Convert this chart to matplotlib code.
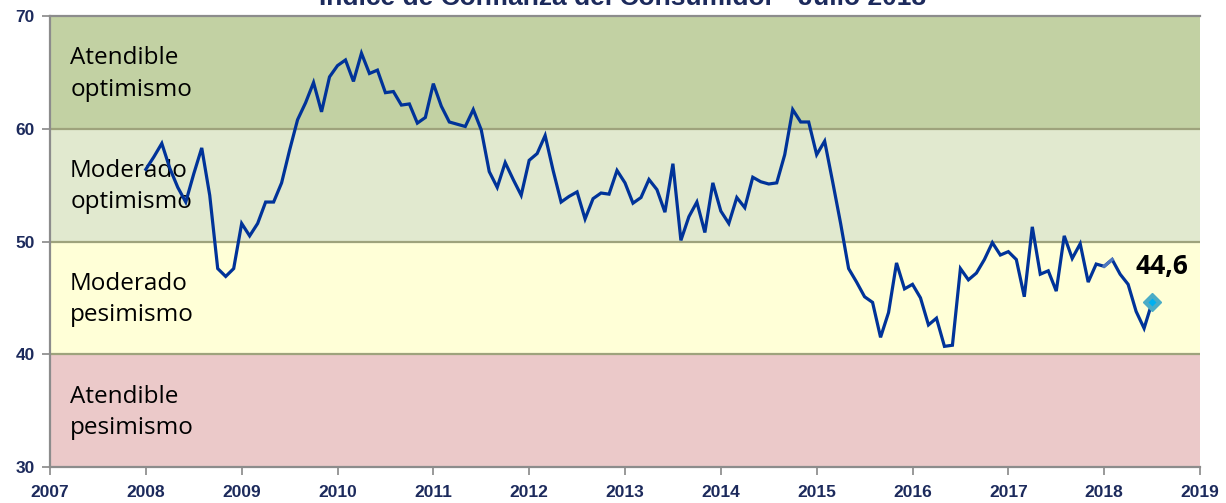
import matplotlib as mpl
mpl.use('Agg')
import matplotlib.pyplot as plt
import numpy as np

plt.rcParams['font.family'] = ['Liberation Sans', 'DejaVu Sans']

# monthly consumer confidence index, Jan 2008 - Jul 2018
vals_2008 = [56.4, 57.5, 58.7, 56.5, 54.8, 53.5, 56.0, 58.3, 54.1, 47.6, 46.9, 47.6]
vals_2009 = [51.6, 50.5, 51.6, 53.5, 53.5, 55.2, 58.1, 60.8, 62.3, 64.1, 61.5, 64.6]
vals_2010 = [65.6, 66.1, 64.2, 66.7, 64.9, 65.2, 63.2, 63.3, 62.1, 62.2, 60.5, 61.0]
vals_2011 = [64.0, 62.0, 60.6, 60.4, 60.2, 61.7, 59.9, 56.2, 54.8, 57.0, 55.5, 54.1]
vals_2012 = [57.2, 57.8, 59.4, 56.3, 53.5, 54.0, 54.4, 52.0, 53.8, 54.3, 54.2, 56.3]
vals_2013 = [55.2, 53.4, 53.9, 55.5, 54.6, 52.6, 56.9, 50.1, 52.2, 53.5, 50.8, 55.2]
vals_2014 = [52.7, 51.6, 53.9, 53.0, 55.7, 55.3, 55.1, 55.2, 57.7, 61.7, 60.6, 60.6]
vals_2015 = [57.7, 58.9, 55.3, 51.6, 47.6, 46.4, 45.1, 44.6, 41.5, 43.7, 48.1, 45.8]
vals_2016 = [46.2, 45.0, 42.6, 43.2, 40.7, 40.8, 47.6, 46.6, 47.2, 48.4, 49.9, 48.8]
vals_2017 = [49.1, 48.4, 45.1, 51.3, 47.1, 47.4, 45.6, 50.5, 48.5, 49.8, 46.4, 48.0]
vals_2018 = [47.8, 48.4, 47.1, 46.2, 43.8, 42.3, 44.6]

values = (vals_2008 + vals_2009 + vals_2010 + vals_2011 + vals_2012 + vals_2013
          + vals_2014 + vals_2015 + vals_2016 + vals_2017 + vals_2018)
dates = 2008 + np.arange(len(values)) / 12.0

bands = [(60, 70, '#c2d1a3', 'Atendible\noptimismo'),
         (50, 60, '#e1e9cf', 'Moderado\noptimismo'),
         (40, 50, '#ffffd7', 'Moderado\npesimismo'),
         (30, 40, '#ebc9c9', 'Atendible\npesimismo')]
years = list(range(2007, 2020))
navy = '#1c2a5c'

fig = plt.figure(figsize=(12.26, 5.03), dpi=100)
ax = fig.add_axes([50 / 1226, 36 / 503, 1150 / 1226, 451 / 503])

for lo, hi, col, lab in bands:
    ax.axhspan(lo, hi, color=col, zorder=0)
    ax.text(2007.21, (lo + hi) / 2 - 0.15, lab, fontsize=17.5, family=['Open Sans', 'DejaVu Sans'],
            va='center', ha='left', linespacing=1.4, zorder=1)
for y in [40, 50, 60]:
    ax.axhline(y, color='#9ea37c', lw=1.6, zorder=1)

ax.plot(dates, values, color='#003399', lw=2.3, zorder=3, solid_joinstyle='miter')
# lighter segment Jan-Feb 2018
ax.plot(dates[120:122], values[120:122], color='#4f79c0', lw=2.3, zorder=4)
ax.plot(dates[-1], values[-1], marker='D', ms=9, color='#4bacc6', mec='#4bacc6', zorder=5)
ax.plot(dates[-1], values[-1], marker='D', ms=4, color='#00b0f0', mec='none', zorder=6)
ax.text(dates[-1] + 0.1, values[-1] + 2.0, '44,6', fontsize=19, fontweight='bold',
        family=['Open Sans', 'DejaVu Sans'], ha='center', va='bottom', zorder=6)

ax.set_xlim(2007, 2019)
ax.set_ylim(30, 70)
ax.set_xticks(years)
ax.set_yticks([30, 40, 50, 60, 70])
ax.tick_params(axis='both', colors='#888888', labelcolor=navy, labelsize=12.5, length=6, width=1.2)
for lab in ax.get_xticklabels() + ax.get_yticklabels():
    lab.set_fontweight('bold')
ax.tick_params(axis='x', pad=7)
ax.tick_params(axis='y', pad=5)
for s in ['left', 'bottom', 'top']:
    ax.spines[s].set_color('#8c8c8c')
    ax.spines[s].set_linewidth(1.6)
ax.spines['right'].set_visible(False)

fig.text(0.508, 0.99, 'Índice de Confianza del Consumidor - Julio 2018', ha='center', va='baseline',
         fontsize=19, fontweight='bold', color=navy)

fig.savefig('out.png', dpi=100)
